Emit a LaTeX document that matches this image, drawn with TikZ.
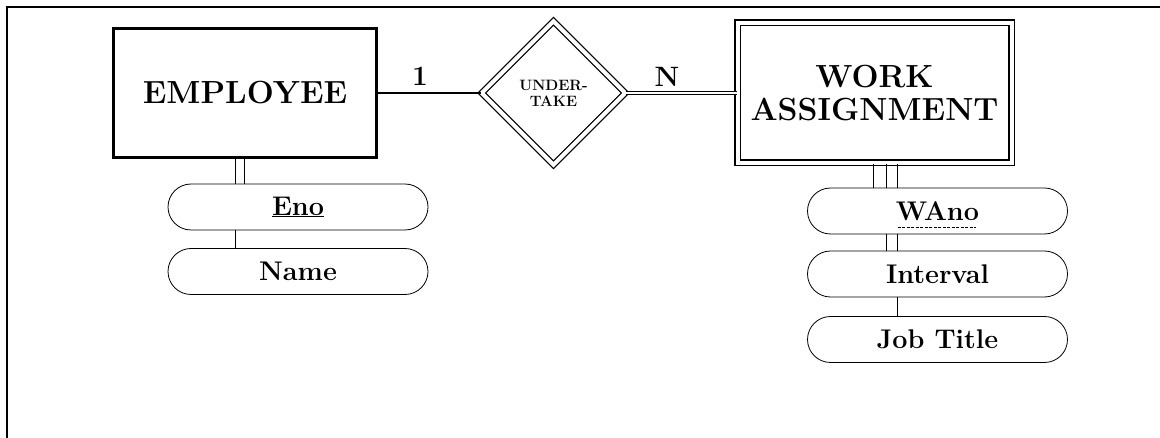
\documentclass[tikz,border=0pt]{standalone}
\usepackage{fontspec}
\usetikzlibrary{shapes.geometric}

\tikzset{
  entity/.style={draw, line width=3pt, minimum width=263pt, minimum height=129pt,
    align=center, font=\fontsize{32}{33}\selectfont\bfseries},
  weakentity/.style={draw, line width=1.5pt, double, double distance=4pt,
    minimum width=274pt, minimum height=140pt,
    align=center, font=\fontsize{32}{33}\selectfont\bfseries},
  relation/.style={draw, diamond, aspect=1, line width=1.3pt, double, double distance=4pt,
    minimum width=144pt, minimum height=144pt, inner sep=0pt,
    align=center, font=\fontsize{15}{16}\selectfont\bfseries},
  attr/.style={draw, line width=0.8pt, rounded corners=23pt, minimum width=260pt,
    minimum height=46pt, font=\fontsize{27}{28}\selectfont\bfseries},
  card/.style={font=\fontsize{28}{29}\selectfont\bfseries},
  link/.style={line width=0.8pt},
}

\begin{document}
\begin{tikzpicture}[x=1pt,y=-1pt]
\useasboundingbox (0,0) rectangle (1160,438);
\draw[line width=2.2pt] (7,438) -- (7,7) -- (1160,7);

\node[entity] (emp) at (245,93) {EMPLOYEE};
\node[relation] (under) at (553.5,93) {UNDER-\\TAKE};
\node[weakentity] (work) at (874.5,93) {WORK\\ASSIGNMENT};

\node[card] (one) at (420,76) {1};
\node[card] (many) at (667,77) {N};

\node[attr] (eno) at (298,207) {\underline{Eno}};
\node[attr] (name) at (298,271.5) {Name};

\node[attr] (wano) at (937.5,211) {WAno};
\node[attr] (interval) at (937.5,274) {Interval};
\node[attr] (jobtitle) at (937.5,339.5) {Job Title};
\draw[line width=0.6pt, dash pattern=on 3pt off 1.5pt]
  ([xshift=-40pt,yshift=-16pt]wano.center) -- ([xshift=38pt,yshift=-16pt]wano.center);

\draw[line width=2pt] (emp.east) -- (under.west);
\draw[line width=1.5pt, double, double distance=1.5pt] (under.east) -- (work.west);

\foreach \dx in {-10,-1}
  \draw[link] ([xshift=\dx pt]emp.south) -- ([xshift=\dx pt]emp.south |- eno.north);
\draw[link] ([xshift=-63pt]eno.south) -- ([xshift=-63pt]name.north);

\foreach \dx in {-1.5,11.5,22.5}
  \draw[link] ([xshift=\dx pt]work.south) -- ([xshift=\dx pt]work.south |- wano.north);
\foreach \dx in {-51.5,-40.5}
  \draw[link] ([xshift=\dx pt]wano.south) -- ([xshift=\dx pt]interval.north);
\draw[link] ([xshift=-40.5pt]interval.south) -- ([xshift=-40.5pt]jobtitle.north);
\end{tikzpicture}
\end{document}
